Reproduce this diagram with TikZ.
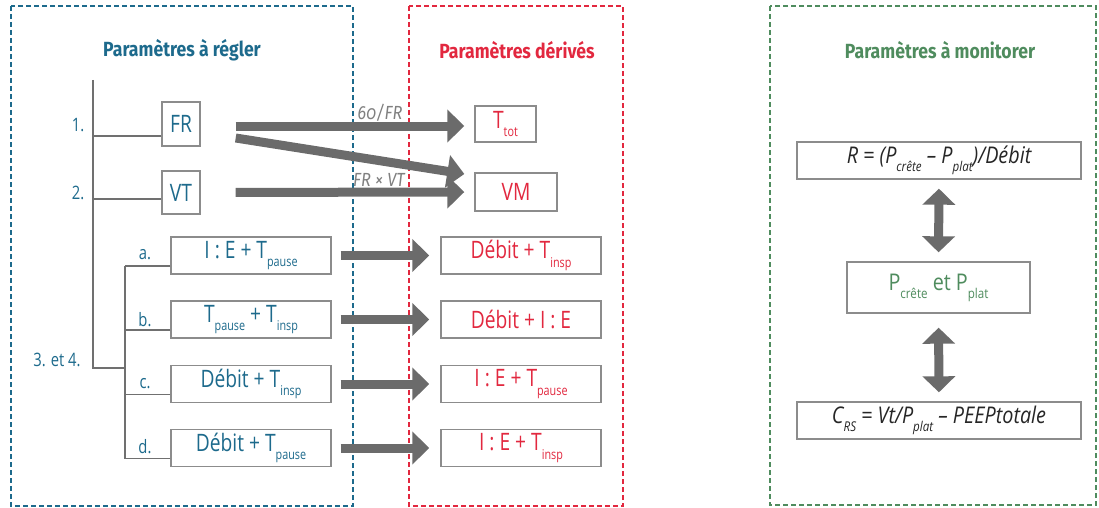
\documentclass[tikz,border=0pt]{standalone}
\usepackage{fontspec}
\usetikzlibrary{arrows.meta}
\setmainfont{Open Sans}
\newfontfamily\titlefont[FakeStretch=0.86]{Fira Sans}
\newfontfamily\cond[FakeStretch=0.80]{Open Sans}
\newfontfamily\labfont[FakeStretch=0.86,Numbers=OldStyle]{Fira Sans}
\newfontfamily\formfont[FakeStretch=0.86]{Open Sans}

\definecolor{blueP}{HTML}{1D6A8C}
\definecolor{redP}{HTML}{E2283F}
\definecolor{greenP}{HTML}{4F8C5E}
\definecolor{arrowgray}{HTML}{6B6B6B}
\definecolor{boxgray}{HTML}{8C8C8C}
\definecolor{treegray}{HTML}{707070}
\definecolor{labgray}{HTML}{808080}
\definecolor{formtext}{HTML}{262626}

% lowered small index, as in T_pause
\newcommand\lowidx[1]{\raisebox{-0.34em}{\fontsize{13.5}{13.5}\selectfont #1}}

\tikzset{
  pbox/.style={draw=boxgray, line width=1.4pt, fill=white, inner sep=0pt},
  leftbox/.style={pbox, text=blueP, font=\cond\fontsize{24}{24}\selectfont},
  redbox/.style={pbox, text=redP, font=\cond\fontsize{24}{24}\selectfont},
  monbox/.style={pbox, text=formtext, font=\formfont\itshape\fontsize{23}{23}\selectfont},
  tree/.style={draw=treegray, line width=1.6pt},
  bigarrow/.style={draw=arrowgray, line width=9pt, -{Triangle[length=17pt,width=32pt]}},
  dblarrow/.style={draw=arrowgray, line width=9pt,
    {Triangle[length=16pt,width=32pt]}-{Triangle[length=16pt,width=32pt]}},
  frame/.style={dash pattern=on 5pt off 3pt, line width=1.2pt},
  title/.style={font=\titlefont\bfseries\fontsize{20.5}{20.5}\selectfont},
  numlab/.style={text=blueP, font=\cond\fontsize{18.5}{18.5}\selectfont},
  formlab/.style={text=labgray, font=\labfont\itshape\fontsize{19}{19}\selectfont},
}

\begin{document}
\begin{tikzpicture}[x=1pt, y=-1pt]
\useasboundingbox (0,0) rectangle (1099,508);

% dashed group frames
\draw[frame, draw=blueP] (11,6) rectangle (353,506);
\draw[frame, draw=redP] (409,6) rectangle (623,506);
\draw[frame, draw=greenP] (770,6) rectangle (1096,505);

% group titles
\node[title, text=blueP] (t1) at (182,50) {Paramètres à régler};
\node[title, text=redP] (t2) at (517,50) {Paramètres dérivés};
\node[title, text=greenP] (t3) at (940,50) {Paramètres à monitorer};

% settings
\node[leftbox, minimum width=38pt, minimum height=44pt] (FR) at (181,124) {FR};
\node[leftbox, minimum width=38pt, minimum height=43pt] (VT) at (181,192.5) {VT};
\node[leftbox, minimum width=160pt, minimum height=37pt] (sa) at (251,255.5) {I : E + T\lowidx{pause}};
\node[leftbox, minimum width=160pt, minimum height=37pt] (sb) at (251,319.5) {T\lowidx{pause} + T\lowidx{insp}};
\node[leftbox, minimum width=160pt, minimum height=37pt] (sc) at (251,384) {Débit + T\lowidx{insp}};
\node[leftbox, minimum width=160pt, minimum height=37pt] (sd) at (251,448) {Débit + T\lowidx{pause}};

% derived values
\node[redbox, minimum width=61pt, minimum height=36pt] (Ttot) at (505.5,124) {T\lowidx{tot}};
\node[redbox, minimum width=82pt, minimum height=38pt] (VM) at (516,192) {VM};
\node[redbox, minimum width=160pt, minimum height=37pt] (da) at (521,255.5) {Débit + T\lowidx{insp}};
\node[redbox, minimum width=160pt, minimum height=37pt] (db) at (521,319.5) {Débit + I : E};
\node[redbox, minimum width=160pt, minimum height=37pt] (dc) at (521,384) {I : E + T\lowidx{pause}};
\node[redbox, minimum width=160pt, minimum height=37pt] (dd) at (521,448) {I : E + T\lowidx{insp}};

% monitored values
\node[monbox, minimum width=284pt, minimum height=37pt] (R) at (939,160.5)
  {R = (P\lowidx{crête} – P\lowidx{plat})/Débit};
\node[pbox, minimum width=183pt, minimum height=51pt, text=greenP,
  font=\formfont\fontsize{23}{23}\selectfont] (P) at (938.5,287.5)
  {P\lowidx{crête} et P\lowidx{plat}};
\node[monbox, minimum width=284pt, minimum height=37pt] (C) at (939,420.5)
  {C\lowidx{\itshape RS} = Vt/P\lowidx{\itshape plat} – PEEPtotale};

% numbering labels
\node[numlab] (n1) at (78,125) {1.};
\node[numlab] (n2) at (78,193) {2.};
\node[numlab] (n34) at (57,360) {3. et 4.};
\node[numlab] (la) at (145,255) {a.};
\node[numlab] (lb) at (145,320) {b.};
\node[numlab] (lc) at (145,384) {c.};
\node[numlab] (ld) at (145,447) {d.};

% tree of settings
\coordinate (trunkTop) at (93,80);
\coordinate (trunkBot) at (93,368);
\coordinate (subX) at (125,368);
\draw[tree] (trunkTop) -- (trunkBot) -- (subX);
\coordinate (b1) at ([yshift=-12pt]FR.west);
\coordinate (b2) at ([yshift=-6.5pt]VT.west);
\draw[tree] (b1) -- (b1 -| trunkTop);
\draw[tree] (b2) -- (b2 -| trunkTop);
\foreach \s in {sa,sb,sc,sd}{
  \coordinate (c\s) at ([yshift=-10.5pt]\s.west);
  \draw[tree] (c\s) -- (c\s -| subX);
}
\draw[tree] (csa -| subX) -- (csd -| subX);

% derivation arrows
\draw[bigarrow, shorten <=35pt, shorten >=10pt] ([yshift=-2pt]FR.east) -- ([yshift=-2pt]Ttot.west);
\draw[bigarrow] ([xshift=35pt,yshift=-14pt]FR.east) -- ([xshift=-10pt,yshift=18pt]VM.west);
\draw[bigarrow, shorten <=35pt, shorten >=10pt] (VT.east) -- (VM.west);
\foreach \s/\d in {sa/da,sb/db,sc/dc,sd/dd}{
  \draw[bigarrow, shorten <=9pt, shorten >=11pt] (\s.east) -- (\d.west);
}
\node[formlab] (f1) at (380,113) {60/FR};
\node[formlab] (f2) at (379,180) {FR × VT};

% monitoring arrows
\draw[dblarrow, shorten <=9pt, shorten >=9pt] (R.south) -- (P.north);
\draw[dblarrow, shorten <=14pt, shorten >=9pt] (P.south) -- (C.north);
\end{tikzpicture}
\end{document}
